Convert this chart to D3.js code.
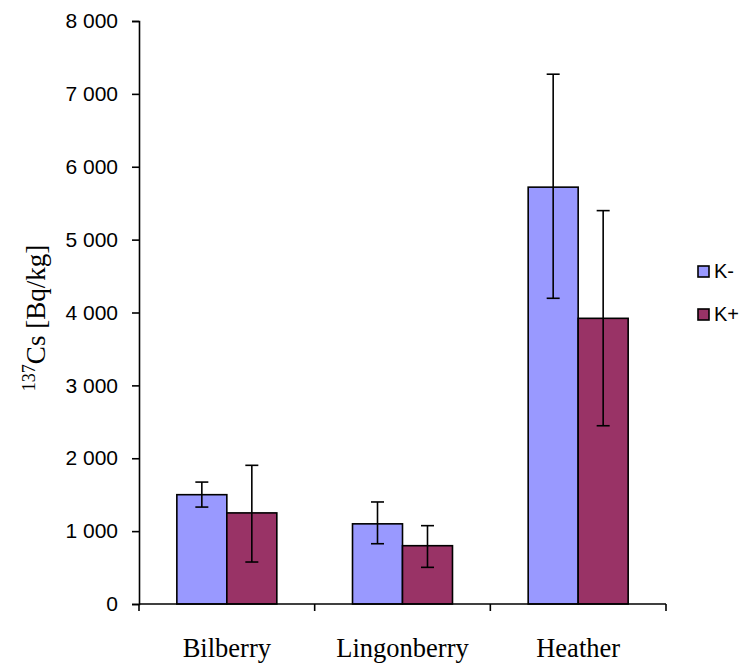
<!DOCTYPE html>
<html><head><meta charset="utf-8">
<script src="https://cdn.jsdelivr.net/npm/d3@7"></script>
<style>body{margin:0;background:#fff;} svg{display:block;}</style>
</head><body>
<script>
const categories = ["Bilberry", "Lingonberry", "Heather"];
const seriesNames = ["K-", "K+"];
const kMinus = [1500, 1100, 5720];
const kPlus = [1250, 800, 3920];
const kMinusErrLow = [1330, 827, 4195];
const kMinusErrHigh = [1673, 1400, 7270];
const kPlusErrLow = [576, 503, 2446];
const kPlusErrHigh = [1903, 1075, 5398];
const yTicks = [0, 1000, 2000, 3000, 4000, 5000, 6000, 7000, 8000];
const colors = ["#9999FF", "#993366"];

const W = 747, H = 664;
const SW = 1.6;
const svg = d3.select("body").append("svg").attr("width", W).attr("height", H);

const x = d3.scaleBand().domain(categories).range([139, 666]).paddingInner(0).paddingOuter(0);
const xs = d3.scaleBand().domain(seriesNames).range([0, x.bandwidth()]).paddingInner(0).paddingOuter(0.757);
const y = d3.scaleLinear().domain([0, 8000]).range([604, 21]);

const data = categories.map((c, i) => ({
  c,
  vals: [
    {s: "K-", v: kMinus[i], lo: kMinusErrLow[i], hi: kMinusErrHigh[i]},
    {s: "K+", v: kPlus[i], lo: kPlusErrLow[i], hi: kPlusErrHigh[i]}
  ]
}));

const g = svg.selectAll("g.cat").data(data).join("g").attr("class", "cat")
  .attr("transform", d => `translate(${x(d.c)},0)`);

g.selectAll("rect").data(d => d.vals).join("rect")
  .attr("x", d => xs(d.s))
  .attr("y", d => y(d.v))
  .attr("width", xs.bandwidth())
  .attr("height", d => y(0) - y(d.v))
  .attr("fill", (d, i) => colors[i])
  .attr("stroke", "#000").attr("stroke-width", SW);

const eb = g.selectAll("g.err").data(d => d.vals).join("g").attr("class", "err")
  .attr("stroke", "#000").attr("stroke-width", SW);
eb.append("line").attr("x1", d => xs(d.s) + xs.bandwidth()/2).attr("x2", d => xs(d.s) + xs.bandwidth()/2)
  .attr("y1", d => y(d.lo)).attr("y2", d => y(d.hi));
eb.append("line").attr("x1", d => xs(d.s) + xs.bandwidth()/2 - 6.5).attr("x2", d => xs(d.s) + xs.bandwidth()/2 + 6.5)
  .attr("y1", d => y(d.lo)).attr("y2", d => y(d.lo));
eb.append("line").attr("x1", d => xs(d.s) + xs.bandwidth()/2 - 6.5).attr("x2", d => xs(d.s) + xs.bandwidth()/2 + 6.5)
  .attr("y1", d => y(d.hi)).attr("y2", d => y(d.hi));

// Y axis
const fmt = v => d3.format(",")(v).replace(/,/g, "\u00a0");
const yAxis = svg.append("g").attr("transform", "translate(139,0)")
  .call(d3.axisLeft(y).tickValues(yTicks).tickSize(7).tickPadding(14).tickFormat(fmt));
yAxis.select(".domain").attr("stroke", "#000").attr("stroke-width", SW);
yAxis.selectAll(".tick line").attr("stroke", "#000").attr("stroke-width", SW);
yAxis.selectAll(".tick text").attr("fill", "#000")
  .style("font-family", "Liberation Sans, Arial, sans-serif").style("font-size", "21px");

// X axis
const xAxis = svg.append("g").attr("transform", "translate(0,604)");
xAxis.append("line").attr("x1", 139).attr("x2", 666).attr("y1", 0).attr("y2", 0)
  .attr("stroke", "#000").attr("stroke-width", SW);
const xTickPos = categories.map(c => x(c)).concat([x(categories[categories.length-1]) + x.bandwidth()]);
xAxis.selectAll("line.xt").data(xTickPos).join("line").attr("class", "xt")
  .attr("x1", d => d).attr("x2", d => d).attr("y1", 0).attr("y2", 7)
  .attr("stroke", "#000").attr("stroke-width", SW);
xAxis.selectAll("text").data(categories).join("text")
  .attr("x", d => x(d) + x.bandwidth()/2).attr("y", 53)
  .attr("text-anchor", "middle")
  .style("font-family", "Liberation Serif, Times New Roman, serif").style("font-size", "26.5px")
  .text(d => d);

// Y title
const yt = svg.append("text")
  .attr("transform", "translate(45,318) rotate(-90)")
  .attr("text-anchor", "middle")
  .style("font-family", "Liberation Serif, Times New Roman, serif").style("font-size", "27px");
yt.append("tspan").text("137").style("font-size", "18px").attr("dy", "-10");
yt.append("tspan").text("Cs [Bq/kg]").attr("dy", "10");

// Legend
const leg = svg.append("g").selectAll("g").data(seriesNames).join("g")
  .attr("transform", (d, i) => `translate(698,${266 + i*43})`);
leg.append("rect").attr("width", 11).attr("height", 11)
  .attr("fill", (d, i) => colors[i]).attr("stroke", "#000").attr("stroke-width", SW);
leg.append("text").attr("x", 16).attr("y", 12)
  .style("font-family", "Liberation Sans, Arial, sans-serif").style("font-size", "20px")
  .text(d => d);
</script>
</body></html>
